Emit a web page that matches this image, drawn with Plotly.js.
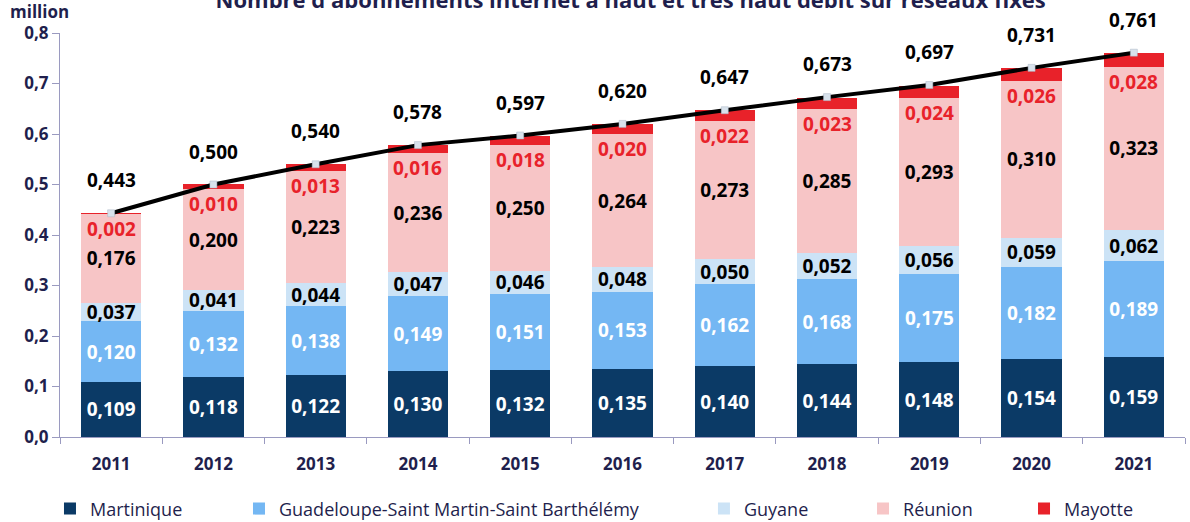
<!DOCTYPE html>
<html>
<head>
<meta charset="utf-8">
<script src="https://cdn.plot.ly/plotly-3.0.1.min.js"></script>
<style>html,body{margin:0;padding:0;background:#fff;}#chart{width:1190px;height:522px;}</style>
</head>
<body>
<div id="chart"></div>
<script>
const years = [2011,2012,2013,2014,2015,2016,2017,2018,2019,2020,2021];
const martinique = [0.109,0.118,0.122,0.130,0.132,0.135,0.140,0.144,0.148,0.154,0.159];
const guadeloupe = [0.120,0.132,0.138,0.149,0.151,0.153,0.162,0.168,0.175,0.182,0.189];
const guyane     = [0.037,0.041,0.044,0.047,0.046,0.048,0.050,0.052,0.056,0.059,0.062];
const reunion    = [0.176,0.200,0.223,0.236,0.250,0.264,0.273,0.285,0.293,0.310,0.323];
const mayotte    = [0.002,0.010,0.013,0.016,0.018,0.020,0.022,0.023,0.024,0.026,0.028];
const totals     = [0.443,0.500,0.540,0.578,0.597,0.620,0.647,0.673,0.697,0.731,0.761];
const seriesNames = ['Martinique','Guadeloupe-Saint Martin-Saint Barthélémy','Guyane','Réunion','Mayotte'];
const titleText = "Nombre d'abonnements internet à haut et très haut débit sur réseaux fixes";

const FONT = "'Open Sans', 'Noto Sans', sans-serif";
const NAVY = '#1f1f4d';
const fmt = v => v.toFixed(3).replace('.', ',');

const series = [martinique, guadeloupe, guyane, reunion, mayotte];
const colors = ['#0b3a66','#74b7f3','#cce3f6','#f7c5c6','#e8222a'];
const textColors = ['#ffffff','#ffffff','#000000','#000000','#e8222a'];
const legendX = [-0.0089, 0.1591, 0.5724, 0.7138, 0.8569];

const traces = [];
series.forEach((vals, i) => {
  const t = {
    type: 'bar', x: years, y: vals, name: seriesNames[i],
    marker: {color: colors[i], line: {width: 0}},
    width: 0.59,
    legend: i === 0 ? 'legend' : 'legend' + (i + 1),
    hoverinfo: 'skip'
  };
  if (i < 4) {
    t.text = vals.map(fmt);
    t.textposition = 'inside';
    t.insidetextanchor = 'middle';
    t.constraintext = 'none';
    t.textangle = 0;
    t.textfont = {family: FONT, size: 19, color: textColors[i], weight: 'bold'};
  } else {
    t.textposition = 'none';
  }
  traces.push(t);
});

traces.push({
  type: 'scatter', mode: 'lines+markers', x: years, y: totals,
  line: {color: '#000000', width: 4},
  marker: {symbol: 'square', size: 7, color: '#d8e2ec', line: {color: '#aab6c4', width: 0.5}},
  showlegend: false, hoverinfo: 'skip'
});

const annotations = [];
years.forEach((yr, k) => {
  const reunionTop = martinique[k] + guadeloupe[k] + guyane[k] + reunion[k];
  annotations.push({
    x: yr, y: reunionTop, xref: 'x', yref: 'y', yanchor: 'top', yshift: 0,
    text: fmt(mayotte[k]), showarrow: false,
    font: {family: FONT, size: 19, color: '#e8222a', weight: 'bold'}
  });
  annotations.push({
    x: yr, y: totals[k], xref: 'x', yref: 'y', yanchor: 'bottom', yshift: 18,
    text: fmt(totals[k]), showarrow: false,
    font: {family: FONT, size: 19, color: '#000000', weight: 'bold'}
  });
});
annotations.push({
  x: -0.046, y: 1.052, xref: 'paper', yref: 'paper', xanchor: 'left', yanchor: 'middle',
  text: 'million', showarrow: false,
  font: {family: FONT, size: 17, color: NAVY, weight: 'bold'}
});

const legendBase = (x) => ({
  orientation: 'h', x: x, xanchor: 'left', y: -0.178, yanchor: 'middle',
  font: {family: FONT, size: 18, color: NAVY}, bgcolor: 'rgba(0,0,0,0)'
});

const layout = {
  width: 1190, height: 522,
  margin: {l: 60, r: 5, t: 33, b: 85, autoexpand: false},
  paper_bgcolor: '#ffffff', plot_bgcolor: '#ffffff',
  barmode: 'stack',
  separators: ',.',
  showlegend: true,
  title: {
    text: titleText, x: 0.53, xanchor: 'center', y: 1, yref: 'container', yanchor: 'middle',
    font: {family: FONT, size: 22, color: NAVY, weight: 'bold'}
  },
  xaxis: {
    type: 'linear', range: [2010.5, 2021.5], tickvals: years, ticktext: years.map(String),
    showgrid: false, zeroline: false,
    showline: true, linecolor: '#9a9ac0', linewidth: 1,
    ticks: '', ticklabelstandoff: 12,
    minor: {ticks: 'outside', tick0: 2010.5, dtick: 1, ticklen: 6, tickcolor: '#9a9ac0', showgrid: false},
    tickfont: {family: FONT, size: 17, color: NAVY, weight: 'bold'},
    fixedrange: true
  },
  yaxis: {
    range: [0, 0.8], dtick: 0.1, tickformat: '.1f', showgrid: false, zeroline: false,
    showline: true, linecolor: '#9a9ac0', linewidth: 1,
    ticks: 'outside', ticklen: 7, tickcolor: '#9a9ac0',
    tickfont: {family: FONT, size: 17, color: NAVY, weight: 'bold'},
    fixedrange: true
  },
  legend: legendBase(legendX[0]),
  legend2: legendBase(legendX[1]),
  legend3: legendBase(legendX[2]),
  legend4: legendBase(legendX[3]),
  legend5: legendBase(legendX[4]),
  annotations: annotations
};

Plotly.newPlot('chart', traces, layout, {displayModeBar: false, staticPlot: true});
</script>
</body>
</html>
